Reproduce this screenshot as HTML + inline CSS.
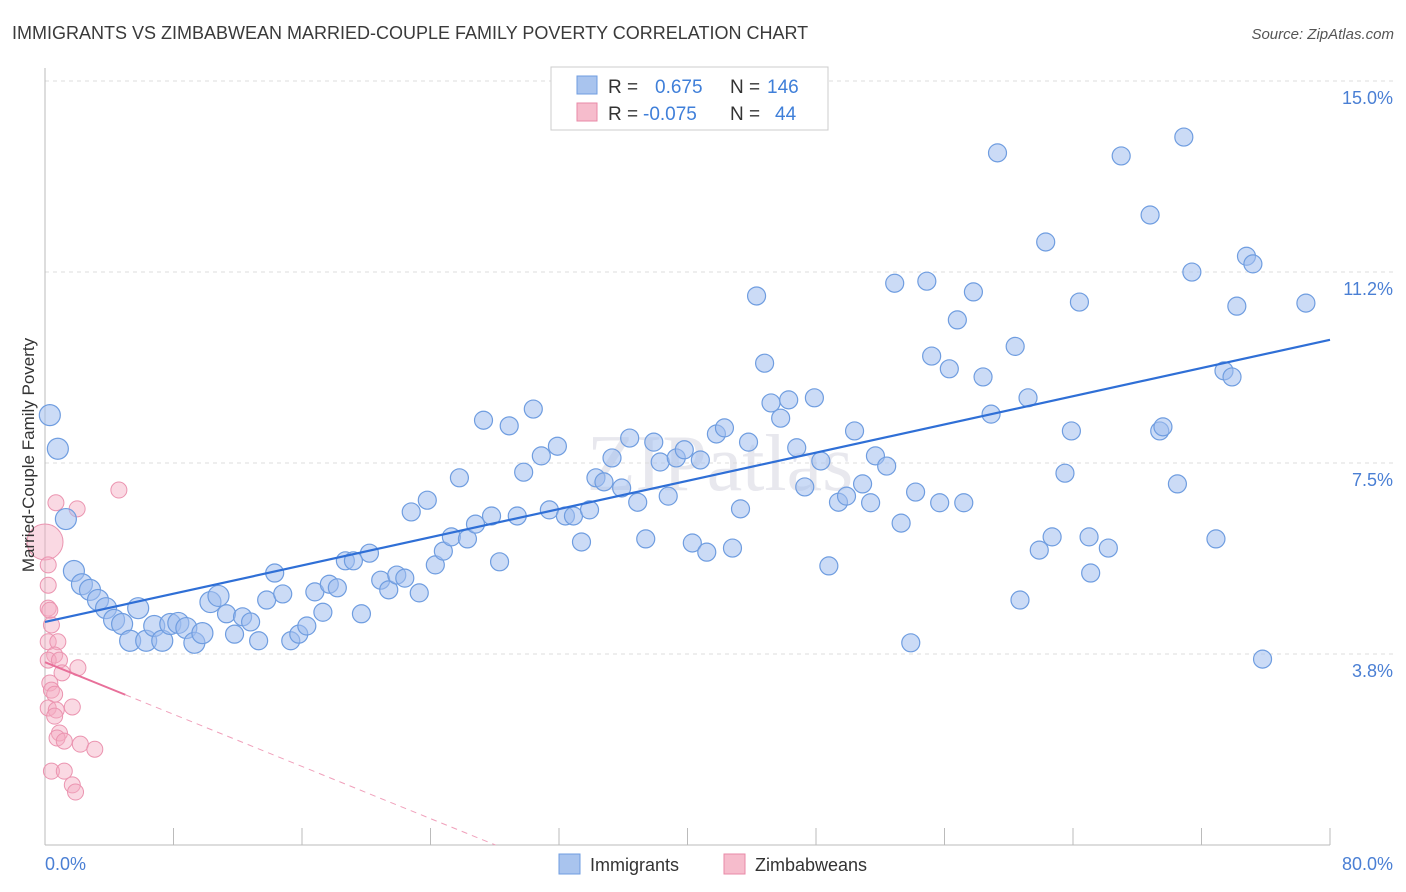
<!DOCTYPE html>
<html><head><meta charset="utf-8"><style>
body{margin:0;background:#fff;font-family:"Liberation Sans",sans-serif;}
svg{display:block}
</style></head><body>
<svg id="chart" width="1406" height="892" xmlns="http://www.w3.org/2000/svg">
<text x="12" y="39" font-size="18" fill="#3a3a3a">IMMIGRANTS VS ZIMBABWEAN MARRIED-COUPLE FAMILY POVERTY CORRELATION CHART</text>
<text x="1394" y="39" font-size="15" fill="#555" font-style="italic" text-anchor="end">Source: ZipAtlas.com</text>
<text x="720" y="490" font-size="80" fill="#e8e8ee" text-anchor="middle" font-family="Liberation Serif">ZIPatlas</text>
<g id="grid"></g>
<g id="axes"></g>
<g id="pts"></g>
<g id="trend"></g>
<text transform="translate(34,455) rotate(-90)" font-size="17" fill="#333" text-anchor="middle">Married-Couple Family Poverty</text>
<text x="45" y="870" font-size="18" fill="#4a7fd4">0.0%</text>
<text x="1393" y="870" font-size="18" fill="#4a7fd4" text-anchor="end">80.0%</text>
<g>
<rect x="551" y="67" width="277" height="63" fill="#fff" stroke="#ccc"/>
<rect x="577" y="76" width="20" height="18" fill="#a9c4ee" stroke="#6f9de0"/>
<rect x="577" y="103" width="20" height="18" fill="#f6bccc" stroke="#e88aa7"/>
<text x="608" y="93" font-size="19" fill="#333">R =</text>
<text x="655" y="93" font-size="19" fill="#3f7fd9">0.675</text>
<text x="730" y="93" font-size="19" fill="#333">N =</text>
<text x="767" y="93" font-size="19" fill="#3f7fd9">146</text>
<text x="608" y="120" font-size="19" fill="#333">R =</text>
<text x="643" y="120" font-size="19" fill="#3f7fd9">-0.075</text>
<text x="730" y="120" font-size="19" fill="#333">N =</text>
<text x="775" y="120" font-size="19" fill="#3f7fd9">44</text>
</g>
<g>
<rect x="559" y="854" width="21" height="20" fill="#a9c4ee" stroke="#6f9de0"/>
<text x="590" y="871" font-size="18" fill="#333">Immigrants</text>
<rect x="724" y="854" width="21" height="20" fill="#f6bccc" stroke="#e88aa7"/>
<text x="755" y="871" font-size="18" fill="#333">Zimbabweans</text>
</g>
</svg>
<script>
const yTicks=[3.75,7.5,11.25,15];
const yTickLabels=["3.8%","7.5%","11.2%","15.0%"];
const xTicks=[0,8,16,24,32,40,48,56,64,72,80];
const blueX=[0.3,0.8,1.3,1.8,2.3,2.8,3.3,3.8,4.3,4.8,5.3,5.8,6.3,6.8,7.3,7.8,8.3,8.8,9.3,9.8,10.3,10.8,11.3,11.8,12.3,12.8,13.3,13.8,14.3,14.8,15.3,15.8,16.3,16.8,17.3,17.7,18.2,18.7,19.2,19.7,20.2,20.9,21.4,21.9,22.4,22.8,23.3,23.8,24.3,24.8,25.3,25.8,26.3,26.8,27.3,27.8,28.3,28.9,29.4,29.8,30.4,30.9,31.4,31.9,32.4,32.9,33.4,33.9,34.3,34.8,35.3,35.9,36.4,36.9,37.4,37.9,38.3,38.8,39.3,39.8,40.3,40.8,41.2,41.8,42.3,42.8,43.3,43.8,44.3,44.8,45.2,45.8,46.3,46.8,47.3,47.9,48.3,48.8,49.4,49.9,50.4,50.9,51.4,51.7,52.4,52.9,53.3,53.9,54.2,54.9,55.2,55.7,56.3,56.8,57.2,57.8,58.4,58.9,59.3,60.4,60.7,61.2,61.9,62.3,62.7,63.5,63.9,64.4,65.0,65.1,66.2,67.0,68.8,69.4,69.6,70.5,70.9,71.4,72.9,73.4,73.9,74.2,74.8,75.2,75.8,78.5];
const blueY=[8.44,7.78,6.40,5.38,5.12,5.01,4.81,4.65,4.42,4.34,4.01,4.65,4.01,4.30,4.01,4.34,4.36,4.26,3.97,4.16,4.77,4.89,4.54,4.14,4.48,4.38,4.01,4.81,5.34,4.93,4.01,4.14,4.30,4.97,4.57,5.12,5.05,5.58,5.58,4.54,5.73,5.20,5.01,5.30,5.24,6.54,4.95,6.77,5.50,5.77,6.05,7.21,6.01,6.30,8.34,6.46,5.56,8.23,6.46,7.32,8.56,7.64,6.58,7.83,6.46,6.46,5.95,6.58,7.21,7.13,7.60,7.01,7.99,6.73,6.01,7.91,7.52,6.85,7.60,7.76,5.93,7.56,5.75,8.07,8.19,5.83,6.60,7.91,10.78,9.46,8.68,8.38,8.74,7.80,7.03,8.78,7.54,5.48,6.73,6.85,8.13,7.09,6.72,7.64,7.44,11.03,6.32,3.97,6.93,11.07,9.60,6.72,9.35,10.31,6.72,10.86,9.19,8.46,13.59,9.79,4.81,8.78,5.79,11.84,6.05,7.30,8.13,10.66,6.05,5.34,5.83,13.53,12.37,8.13,8.21,7.09,13.90,11.25,6.01,9.31,9.19,10.58,11.56,11.41,3.65,10.64];
const pinkX=[0,0.68,2.0,4.6,0.2,0.2,0.2,0.3,0.4,0.2,0.8,0.6,0.2,0.9,2.05,1.06,0.3,0.4,0.6,0.2,0.7,1.7,0.6,0.9,0.75,1.2,2.2,3.1,0.4,1.2,1.7,1.9];
const pinkY=[5.95,6.72,6.60,6.97,5.50,5.10,4.65,4.61,4.32,3.99,3.99,3.73,3.63,3.63,3.48,3.38,3.18,3.04,2.96,2.69,2.65,2.71,2.53,2.20,2.10,2.04,1.98,1.88,1.45,1.45,1.18,1.04];
const blueTrend=[4.38,9.92];
const pinkTrend=[3.59,-0.128];
const NS="http://www.w3.org/2000/svg";
const X=v=>45+v*(1285/80), Y=v=>845-v*50.93;
function mk(tag,attrs,parent){const e=document.createElementNS(NS,tag);for(const k in attrs)e.setAttribute(k,attrs[k]);document.getElementById(parent).appendChild(e);return e;}
yTicks.forEach((t,i)=>{
 const l=mk('line',{x1:45,x2:1393,y1:Y(t),y2:Y(t),stroke:'#ddd','stroke-dasharray':'4,4'},'grid');
 
 
 const tx=mk('text',{x:1393,y:Y(t)+23,'font-size':18,fill:'#4a7fd4','text-anchor':'end'},'grid');
 tx.textContent=yTickLabels[i];
 
 
});
const ax=mk('line',{x1:45,x2:45,y1:68,y2:845,stroke:'#bbb'},'axes');


const bx=mk('line',{x1:45,x2:1330,y1:845,y2:845,stroke:'#bbb'},'axes');


xTicks.forEach(t=>{
 const l=mk('line',{x1:X(t),x2:X(t),y1:828,y2:845,stroke:'#bbb'},'axes');
 
 
});
pinkX.forEach((x,i)=>{
 const c=mk('circle',{cx:X(x),cy:Y(pinkY[i]),r:i===0?18:8,fill:'rgba(244,170,192,0.45)',stroke:'#eb94b0','stroke-width':1},'pts');
 
 
});
blueX.forEach((x,i)=>{
 const c=mk('circle',{cx:X(x),cy:Y(blueY[i]),r:i<22?10.5:9,fill:'rgba(160,190,238,0.55)',stroke:'#6f9de0','stroke-width':1.2},'pts');
 
 
});
const bl=mk('line',{x1:X(0),y1:Y(blueTrend[0]),x2:X(80),y2:Y(blueTrend[1]),stroke:'#2f6fd6','stroke-width':2.2},'trend');


const pz=-pinkTrend[0]/pinkTrend[1];
const ps=mk('line',{x1:X(0),y1:Y(pinkTrend[0]),x2:X(5),y2:Y(pinkTrend[0]+5*pinkTrend[1]),stroke:'#e8709a','stroke-width':2},'trend');


const pd=mk('line',{x1:X(5),y1:Y(pinkTrend[0]+5*pinkTrend[1]),x2:X(pz),y2:Y(0),stroke:'#f0a0bb','stroke-width':1,'stroke-dasharray':'6,5'},'trend');


</script>
</body></html>
